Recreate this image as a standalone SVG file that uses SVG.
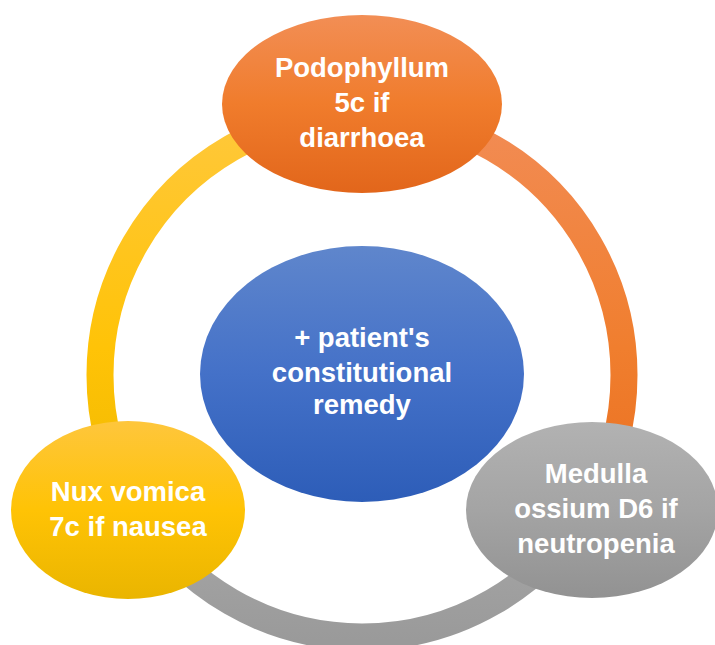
<svg xmlns="http://www.w3.org/2000/svg" width="715" height="645" viewBox="0 0 715 645">
  <defs>
    <linearGradient id="gOrange" x1="0" y1="0" x2="0" y2="1">
      <stop offset="0" stop-color="#F28E55"/>
      <stop offset="0.5" stop-color="#F07C2C"/>
      <stop offset="1" stop-color="#E2661B"/>
    </linearGradient>
    <linearGradient id="gBlue" x1="0" y1="0" x2="0" y2="1">
      <stop offset="0" stop-color="#5F86CC"/>
      <stop offset="0.5" stop-color="#4471C8"/>
      <stop offset="1" stop-color="#2D5DB8"/>
    </linearGradient>
    <linearGradient id="gYellow" x1="0" y1="0" x2="0" y2="1">
      <stop offset="0" stop-color="#FEC63C"/>
      <stop offset="0.5" stop-color="#FFC305"/>
      <stop offset="1" stop-color="#EAB500"/>
    </linearGradient>
    <linearGradient id="gGray" x1="0" y1="0" x2="0" y2="1">
      <stop offset="0" stop-color="#B2B2B2"/>
      <stop offset="0.5" stop-color="#A4A4A4"/>
      <stop offset="1" stop-color="#929292"/>
    </linearGradient>
    <linearGradient id="rYellow" gradientUnits="userSpaceOnUse" x1="0" y1="113" x2="0" y2="506">
      <stop offset="0" stop-color="#FFC83C"/>
      <stop offset="0.6" stop-color="#FFC307"/>
      <stop offset="1" stop-color="#F0B900"/>
    </linearGradient>
    <linearGradient id="rOrange" gradientUnits="userSpaceOnUse" x1="0" y1="113" x2="0" y2="506">
      <stop offset="0" stop-color="#F28C55"/>
      <stop offset="0.6" stop-color="#F07E2E"/>
      <stop offset="1" stop-color="#EA7020"/>
    </linearGradient>
    <linearGradient id="rGray" gradientUnits="userSpaceOnUse" x1="0" y1="506" x2="0" y2="640">
      <stop offset="0" stop-color="#A8A8A8"/>
      <stop offset="1" stop-color="#9A9A9A"/>
    </linearGradient>
    <style>
      .ring { fill: none; stroke-width: 27; }
      .lbl { font-family: "Liberation Sans", Arial, sans-serif; font-weight: bold; font-size: 27.5px; fill: #FFFFFF; text-anchor: middle; }
    </style>
  </defs>

  <rect width="715" height="645" fill="#FFFFFF"/>

  <g id="connectors">
    <path class="ring" stroke="url(#rYellow)" d="M 362 113 A 262 262 0 0 0 135.1 506"/>
    <path class="ring" stroke="url(#rOrange)" d="M 362 113 A 262 262 0 0 1 588.9 506"/>
    <path class="ring" stroke="url(#rGray)" d="M 135.1 506 A 262 262 0 0 0 588.9 506"/>
  </g>

  <g id="node-top">
    <ellipse cx="362" cy="104" rx="140" ry="89" fill="url(#gOrange)"/>
    <text class="lbl" x="362" y="77">Podophyllum</text>
    <text class="lbl" x="362" y="112">5c if</text>
    <text class="lbl" x="362" y="147">diarrhoea</text>
  </g>

  <g id="node-center">
    <ellipse cx="362" cy="374" rx="162" ry="128" fill="url(#gBlue)"/>
    <text class="lbl" x="362" y="347">+ patient's</text>
    <text class="lbl" x="362" y="382">constitutional</text>
    <text class="lbl" x="362" y="414">remedy</text>
  </g>

  <g id="node-left">
    <ellipse cx="128" cy="510" rx="117" ry="89" fill="url(#gYellow)"/>
    <text class="lbl" x="128" y="501">Nux vomica</text>
    <text class="lbl" x="128" y="536">7c if nausea</text>
  </g>

  <g id="node-right">
    <ellipse cx="592" cy="510" rx="126" ry="88" fill="url(#gGray)"/>
    <text class="lbl" x="596" y="483">Medulla</text>
    <text class="lbl" x="596" y="518">ossium D6 if</text>
    <text class="lbl" x="596" y="553">neutropenia</text>
  </g>
</svg>
